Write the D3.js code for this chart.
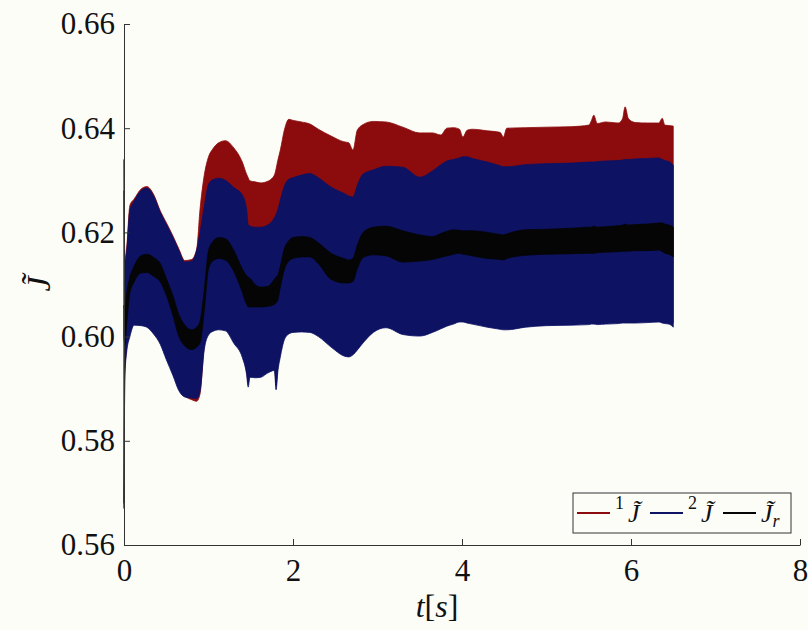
<!DOCTYPE html>
<html>
<head>
<meta charset="utf-8">
<script src="https://cdn.jsdelivr.net/npm/d3@7"></script>
<style>
  html, body { margin: 0; padding: 0; background: #fdfdf8; }
  svg { display: block; }
  text { font-family: "Liberation Serif", "DejaVu Serif", serif; fill: #111; }
</style>
</head>
<body>
<svg id="chart" width="808" height="630"></svg>
<script>
// Sample times [s] at which the envelopes of the oscillating signals are given
const time = [0, 0.01, 0.03, 0.07, 0.12, 0.2, 0.27, 0.35, 0.43, 0.5,
  0.58, 0.65, 0.72, 0.8, 0.86, 0.9, 0.95, 1.0, 1.05, 1.12,
  1.2, 1.3, 1.4, 1.45, 1.47, 1.49, 1.55, 1.62, 1.7, 1.78,
  1.8, 1.82, 1.85, 1.9, 1.95, 2.0, 2.1, 2.2, 2.3, 2.45,
  2.6, 2.66, 2.71, 2.76, 2.83, 2.95, 3.1, 3.3, 3.5, 3.65,
  3.75, 3.82, 3.9, 3.97, 4.01, 4.06, 4.12, 4.3, 4.45, 4.49,
  4.53, 4.75, 5.0, 5.3, 5.5, 5.53, 5.56, 5.6, 5.7, 5.85,
  5.9, 5.93, 5.97, 6.05, 6.2, 6.33, 6.37, 6.4, 6.45, 6.5];

// ^1 J~ : upper / lower envelope
const j1Upper = [0.6280, 0.6148, 0.6168, 0.6252, 0.6264, 0.6283, 0.6288, 0.6273, 0.6241, 0.6219,
  0.6193, 0.6168, 0.6146, 0.6148, 0.6168, 0.6245, 0.6310, 0.6345, 0.6360, 0.6372,
  0.6376, 0.6362, 0.6335, 0.6312, 0.6305, 0.6299, 0.6297, 0.6295, 0.6298, 0.6310,
  0.6322, 0.6338, 0.6358, 0.6398, 0.6417, 0.6415, 0.6412, 0.6408, 0.6398, 0.6385,
  0.6374, 0.6372, 0.6358, 0.6396, 0.6407, 0.6413, 0.6412, 0.6402, 0.6391, 0.6391,
  0.6387, 0.6400, 0.6401, 0.6398, 0.6383, 0.6396, 0.6398, 0.6395, 0.6392, 0.6383,
  0.6400, 0.6401, 0.6402, 0.6403, 0.6406, 0.6414, 0.6425, 0.6409, 0.6412, 0.6410,
  0.6418, 0.6441, 0.6418, 0.6411, 0.6410, 0.6410, 0.6419, 0.6406, 0.6405, 0.6404];
const j1Lower = [0.5680, 0.5928, 0.5976, 0.6008, 0.6030, 0.6029, 0.6026, 0.6013, 0.5993, 0.5964,
  0.5932, 0.5902, 0.5886, 0.5879, 0.5876, 0.5890, 0.5983, 0.6011, 0.6018, 0.6021,
  0.6019, 0.5995, 0.5968, 0.5936, 0.5911, 0.5930, 0.5929, 0.5930, 0.5938, 0.5943,
  0.5906, 0.5940, 0.5969, 0.6003, 0.6013, 0.6016, 0.6017, 0.6016, 0.6008, 0.5988,
  0.5971, 0.5969, 0.5973, 0.5982, 0.5996, 0.6016, 0.6025, 0.6012, 0.6009, 0.6016,
  0.6023, 0.6028, 0.6032, 0.6036, 0.6036, 0.6034, 0.6032, 0.6026, 0.6022, 0.6021,
  0.6021, 0.6026, 0.6029, 0.6030, 0.6031, 0.6032, 0.6032, 0.6031, 0.6032, 0.6033,
  0.6034, 0.6034, 0.6034, 0.6034, 0.6035, 0.6036, 0.6034, 0.6033, 0.6032, 0.6026];

// ^2 J~ : upper / lower envelope
const j2Upper = [0.6340, 0.6140, 0.6160, 0.6243, 0.6260, 0.6280, 0.6285, 0.6270, 0.6238, 0.6216,
  0.6190, 0.6165, 0.6143, 0.6145, 0.6166, 0.6200, 0.6250, 0.6292, 0.6301, 0.6304,
  0.6300, 0.6286, 0.6272, 0.6245, 0.6215, 0.6212, 0.6210, 0.6210, 0.6214, 0.6228,
  0.6235, 0.6243, 0.6262, 0.6290, 0.6302, 0.6305, 0.6310, 0.6313, 0.6305, 0.6287,
  0.6275, 0.6270, 0.6268, 0.6290, 0.6312, 0.6320, 0.6327, 0.6325, 0.6306, 0.6318,
  0.6330, 0.6337, 0.6340, 0.6343, 0.6345, 0.6345, 0.6342, 0.6335, 0.6328, 0.6326,
  0.6326, 0.6330, 0.6332, 0.6333, 0.6335, 0.6335, 0.6335, 0.6336, 0.6337, 0.6338,
  0.6339, 0.6340, 0.6340, 0.6341, 0.6342, 0.6343, 0.6340, 0.6338, 0.6336, 0.6329];
const j2Lower = [0.5670, 0.5920, 0.5968, 0.6000, 0.6022, 0.6021, 0.6018, 0.6005, 0.5985, 0.5956,
  0.5925, 0.5896, 0.5884, 0.5882, 0.5881, 0.5895, 0.5975, 0.6003, 0.6010, 0.6013,
  0.6011, 0.5987, 0.5960, 0.5928, 0.5903, 0.5922, 0.5921, 0.5922, 0.5930, 0.5935,
  0.5898, 0.5932, 0.5961, 0.5995, 0.6005, 0.6008, 0.6009, 0.6008, 0.6000, 0.5980,
  0.5963, 0.5961, 0.5965, 0.5974, 0.5988, 0.6008, 0.6017, 0.6004, 0.6001, 0.6008,
  0.6015, 0.6020, 0.6024, 0.6028, 0.6028, 0.6026, 0.6024, 0.6018, 0.6014, 0.6013,
  0.6013, 0.6018, 0.6021, 0.6022, 0.6023, 0.6024, 0.6024, 0.6023, 0.6024, 0.6025,
  0.6026, 0.6026, 0.6026, 0.6026, 0.6027, 0.6028, 0.6026, 0.6025, 0.6024, 0.6018];

// J~_r : upper / lower envelope
const jrUpper = [0.6060, 0.6050, 0.6080, 0.6114, 0.6135, 0.6155, 0.6158, 0.6152, 0.6140, 0.6112,
  0.6078, 0.6042, 0.6022, 0.6013, 0.6018, 0.6030, 0.6090, 0.6165, 0.6182, 0.6190,
  0.6188, 0.6165, 0.6130, 0.6117, 0.6114, 0.6112, 0.6100, 0.6095, 0.6096, 0.6110,
  0.6114, 0.6118, 0.6135, 0.6170, 0.6184, 0.6190, 0.6192, 0.6190, 0.6180, 0.6160,
  0.6150, 0.6147, 0.6150, 0.6175, 0.6200, 0.6210, 0.6212, 0.6203, 0.6195, 0.6192,
  0.6198, 0.6202, 0.6205, 0.6204, 0.6203, 0.6203, 0.6203, 0.6200, 0.6196, 0.6195,
  0.6197, 0.6205, 0.6206, 0.6208, 0.6210, 0.6210, 0.6212, 0.6210, 0.6211, 0.6213,
  0.6214, 0.6216, 0.6214, 0.6215, 0.6216, 0.6218, 0.6218, 0.6216, 0.6214, 0.6210];
const jrLower = [0.6000, 0.5985, 0.6020, 0.6084, 0.6105, 0.6122, 0.6123, 0.6116, 0.6105, 0.6080,
  0.6040, 0.6000, 0.5982, 0.5975, 0.5980, 0.5988, 0.6050, 0.6130, 0.6145, 0.6150,
  0.6147, 0.6125, 0.6085, 0.6062, 0.6057, 0.6057, 0.6057, 0.6057, 0.6058, 0.6062,
  0.6065, 0.6070, 0.6095, 0.6130, 0.6145, 0.6150, 0.6153, 0.6153, 0.6140, 0.6110,
  0.6103, 0.6103, 0.6106, 0.6130, 0.6152, 0.6157, 0.6155, 0.6143, 0.6145, 0.6148,
  0.6152, 0.6155, 0.6158, 0.6160, 0.6158, 0.6157, 0.6155, 0.6150, 0.6148, 0.6147,
  0.6150, 0.6156, 0.6158, 0.6159, 0.6160, 0.6160, 0.6160, 0.6161, 0.6162, 0.6163,
  0.6164, 0.6164, 0.6164, 0.6165, 0.6165, 0.6166, 0.6163, 0.6160, 0.6158, 0.6153];

const xTicks = [0, 2, 4, 6, 8];
const yTicks = [0.56, 0.58, 0.60, 0.62, 0.64, 0.66];

// J with a combining tilde
const JT = "J\u0303";

const series = [
  { sup: "1", sub: "", color: "#8c0c0e", upper: j1Upper, lower: j1Lower },
  { sup: "2", sub: "", color: "#0d1263", upper: j2Upper, lower: j2Lower },
  { sup: "",  sub: "r", color: "#050505", upper: jrUpper, lower: jrLower }
];

const svg = d3.select("#chart");
const margin = { left: 124, right: 8, top: 24, bottom: 85 };
const W = 808, H = 630;

const x = d3.scaleLinear().domain([0, 8]).range([margin.left, W - margin.right]);
const y = d3.scaleLinear().domain([0.56, 0.66]).range([H - margin.bottom, margin.top]);

// filled envelopes of the fast oscillation, drawn back to front
const idx = d3.range(time.length);
series.forEach(s => {
  const area = d3.area()
    .x(i => x(time[i]))
    .y0(i => y(s.lower[i]))
    .y1(i => y(s.upper[i]))
    .curve(d3.curveMonotoneX);
  svg.append("path")
    .attr("d", area(idx))
    .attr("fill", s.color)
    .attr("stroke", s.color)
    .attr("stroke-width", 0.8);
});

// axes (ticks point into the plot)
const fmtY = d3.format(".2f");
const xAxis = d3.axisBottom(x).tickValues(xTicks).tickFormat(d3.format("d"))
  .tickSizeInner(-6).tickSizeOuter(0).tickPadding(14);
const yAxis = d3.axisLeft(y).tickValues(yTicks).tickFormat(fmtY)
  .tickSizeInner(-6).tickSizeOuter(0).tickPadding(9);

const gx = svg.append("g").attr("transform", `translate(0,${y(0.56)})`).call(xAxis);
const gy = svg.append("g").attr("transform", `translate(${x(0)},0)`).call(yAxis);
[gx, gy].forEach(g => {
  g.select(".domain").attr("stroke", "#333").attr("stroke-width", 1);
  g.selectAll(".tick line").attr("stroke", "#333").attr("stroke-width", 1);
  g.selectAll(".tick text")
    .attr("font-family", "'Liberation Serif', 'DejaVu Serif', serif")
    .attr("font-size", 31).attr("fill", "#111");
});

// axis titles
const xt = svg.append("text")
  .attr("x", 437).attr("y", 617)
  .attr("text-anchor", "middle")
  .attr("font-size", 32);
xt.append("tspan").attr("font-style", "italic").text("t");
xt.append("tspan").text("[");
xt.append("tspan").attr("font-style", "italic").text("s");
xt.append("tspan").text("]");

svg.append("text")
  .attr("transform", "translate(50,284) rotate(-90)")
  .attr("text-anchor", "middle")
  .attr("font-size", 34).attr("font-style", "italic")
  .text(JT);

// legend
const lg = svg.append("g");
lg.append("rect")
  .attr("x", 573).attr("y", 493).attr("width", 218).attr("height", 40)
  .attr("fill", "#fdfdf8").attr("stroke", "#333").attr("stroke-width", 1);

const entryX = [577, 650, 723];
series.forEach((s, k) => {
  const x0 = entryX[k];
  lg.append("line")
    .attr("x1", x0).attr("x2", x0 + 33).attr("y1", 513).attr("y2", 513)
    .attr("stroke", s.color).attr("stroke-width", 2.2);
  const t = lg.append("text").attr("x", x0 + 38).attr("y", 522).attr("font-size", 26);
  if (s.sup) {
    t.append("tspan").attr("font-size", 18).attr("dy", -13).text(s.sup);
    t.append("tspan").attr("font-style", "italic").attr("dx", 4).attr("dy", 13).text(JT);
  } else {
    t.append("tspan").attr("font-style", "italic").text(JT);
    t.append("tspan").attr("font-size", 18).attr("font-style", "italic").attr("dy", 5).text(s.sub);
  }
});
</script>
</body>
</html>
